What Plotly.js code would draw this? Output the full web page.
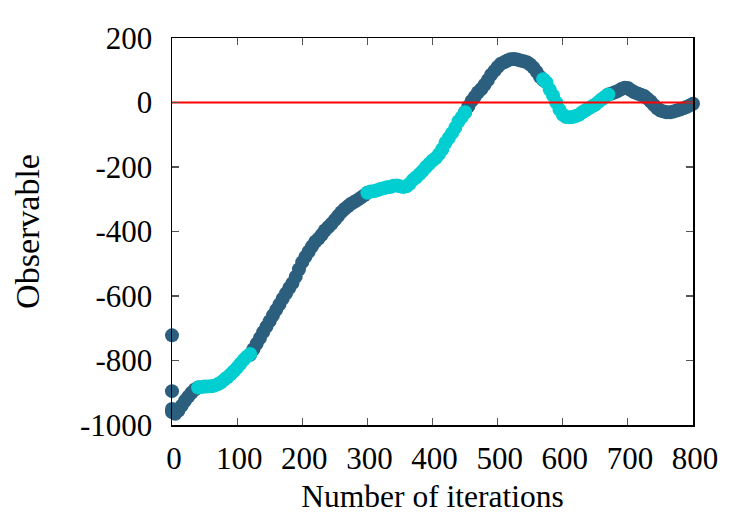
<!DOCTYPE html>
<html>
<head>
<meta charset="utf-8">
<script src="https://cdn.plot.ly/plotly-3.0.1.min.js"></script>
<style>
  html, body { margin: 0; padding: 0; background: #ffffff; }
  #chart { width: 750px; height: 525px; }
</style>
</head>
<body>
<div id="chart"></div>
<script>
// Observable versus iteration number; alternating phases drawn in two colours.
const darkIter = [
  0, 0, 0, 0, 5, 10, 15, 20, 25, 30, 35, 40,
  120, 125, 130, 135, 140, 145, 150, 155, 160, 165, 170, 175, 180, 185, 190, 195,
  200, 205, 210, 215, 220, 225, 230, 235, 240, 245, 250, 255, 260, 265, 270, 275,
  280, 285, 290, 295, 300,
  450, 455, 460, 465, 470, 475, 480, 485, 490, 495, 500, 505, 510, 515, 520, 525,
  530, 535, 540, 545, 550, 555, 560, 565, 570,
  670, 675, 680, 685, 690, 695, 700, 705, 710, 715, 720, 725, 730, 735, 740, 745,
  750, 755, 760, 765, 770, 775, 780, 785, 790, 795, 800
];
const darkObs = [
  -722, -895, -950, -960, -965, -955, -940, -925, -912, -900, -890, -884,
  -782, -765, -748, -730, -712, -695, -678, -660, -643, -626, -608, -592, -575, -560, -540, -517,
  -495, -478, -462, -446, -432, -422, -410, -396, -386, -376, -364, -352, -340, -330, -322, -314,
  -308, -302, -295, -288, -280,
  -30, -12, 5, 18, 32, 42, 55, 70, 86, 98, 110, 120, 125, 130, 134, 135,
  133, 130, 128, 125, 118, 108, 95, 80, 70,
  25, 28, 32, 36, 42, 46, 45, 38, 32, 28, 24, 20, 12, 3, -8, -18,
  -25, -28, -30, -30, -28, -25, -22, -18, -14, -9, -4
];

const cyanIter = [
  40, 45, 50, 55, 60, 65, 70, 75, 80, 85, 90, 95, 100, 105, 110, 115, 120,
  300, 305, 310, 315, 320, 325, 330, 335, 340, 345, 350, 355, 360, 365, 370, 375,
  380, 385, 390, 395, 400, 405, 410, 415, 420, 425, 430, 435, 440, 445, 450,
  570, 575, 580, 585, 590, 595, 600, 605, 610, 615, 620, 625, 630, 635, 640, 645,
  650, 655, 660, 665, 670
];
const cyanObs = [
  -884, -882, -881, -881, -880, -878, -874, -868, -860, -852, -843, -833, -822, -810, -798, -788, -780,
  -280, -276, -275, -272, -268, -266, -263, -262, -258, -257, -260, -262, -260, -252, -240, -232,
  -222, -212, -200, -190, -180, -172, -160, -145, -125, -110, -95, -78, -58, -45, -30,
  72, 62, 40, 22, 0, -22, -38, -45, -46, -45, -42, -38, -30, -24, -18, -12,
  -6, 2, 10, 18, 25
];

const xTicks = [0, 100, 200, 300, 400, 500, 600, 700, 800];
const yTicks = [-1000, -800, -600, -400, -200, 0, 200];
const refLevel = [0, 0];
const refIter = [0, 800];

const serif = 'Liberation Serif, Times New Roman, serif';

const traces = [
  {
    x: darkIter, y: darkObs, type: 'scatter', mode: 'markers',
    marker: { size: 14, color: '#2c5f7e', line: { width: 0 } },
    cliponaxis: false, hoverinfo: 'skip', showlegend: false
  },
  {
    x: cyanIter, y: cyanObs, type: 'scatter', mode: 'markers',
    marker: { size: 14, color: '#00ced1', line: { width: 0 } },
    cliponaxis: false, hoverinfo: 'skip', showlegend: false
  },
  {
    x: refIter, y: refLevel, type: 'scatter', mode: 'lines',
    line: { color: '#ff0000', width: 2 },
    hoverinfo: 'skip', showlegend: false
  }
];

const axisCommon = {
  showgrid: false, zeroline: false,
  showline: true, linecolor: '#000000', linewidth: 1.5, mirror: 'allticks',
  ticks: 'inside', ticklen: 7, tickwidth: 1.2, tickcolor: '#555555',
  tickfont: { family: serif, size: 31, color: '#000000' }
};

const layout = {
  width: 750, height: 525,
  margin: { l: 172, r: 57, t: 38, b: 100 },
  paper_bgcolor: '#ffffff', plot_bgcolor: '#ffffff',
  font: { family: serif, color: '#000000' },
  xaxis: Object.assign({}, axisCommon, {
    range: [0, 800], tickvals: xTicks, ticktext: xTicks.map(String),
    ticklabelstandoff: 5, ticklabelshift: 2,
    title: { text: 'Number of iterations', font: { family: serif, size: 31.5 }, standoff: 10 }
  }),
  yaxis: Object.assign({}, axisCommon, {
    range: [-1000, 200], tickvals: yTicks, ticktext: yTicks.map(String),
    ticklabelstandoff: 12,
    title: { text: 'Observable', font: { family: serif, size: 34 }, standoff: 30 }
  })
};

Plotly.newPlot('chart', traces, layout, { displayModeBar: false, staticPlot: true });
</script>
</body>
</html>
